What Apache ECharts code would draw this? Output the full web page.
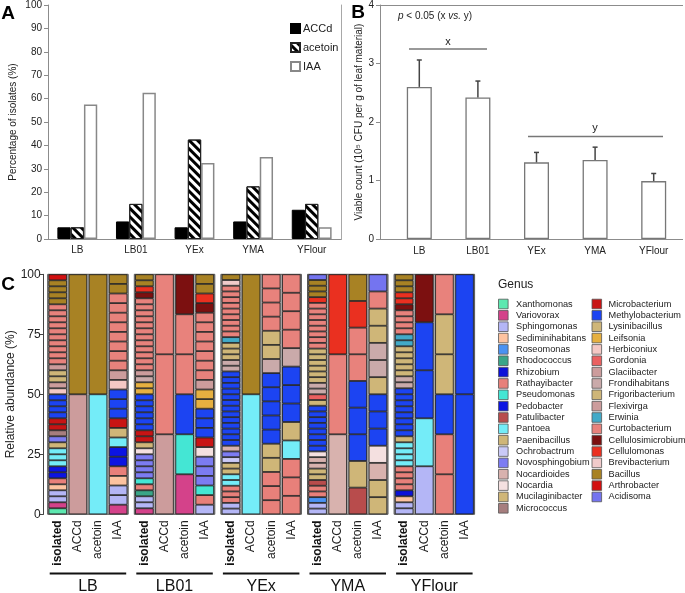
<!DOCTYPE html>
<html><head><meta charset="utf-8">
<script src="https://cdn.jsdelivr.net/npm/echarts@6/dist/echarts.min.js"></script>
<style>html,body{margin:0;padding:0;background:#fff}#c{width:685px;height:593px}</style>
</head><body><div id="c"></div>
<script>
// ---------- Panel A ----------
const categories = ['LB', 'LB01', 'YEx', 'YMA', 'YFlour'];
const accd = [5, 7.5, 5, 7.5, 12.5];
const acetoin = [5, 15, 42.5, 22.5, 15];
const iaa = [57.5, 62.5, 32.5, 35, 5];
const ticksA = [0, 10, 20, 30, 40, 50, 60, 70, 80, 90, 100];

// ---------- Panel B ----------
const viable = [2.6, 2.42, 1.31, 1.35, 0.99];
const viableUpper = [3.06, 2.70, 1.48, 1.57, 1.12];
const ticksB = [0, 1, 2, 3, 4];

// ---------- Panel C ----------
const cColumns = ['isolated', 'ACCd', 'acetoin', 'IAA'];
const cGroups = ['LB', 'LB01', 'YEx', 'YMA', 'YFlour'];
const ticksC = [0, 25, 50, 75, 100];
const genera = ['Xanthomonas','Variovorax','Sphingomonas','Sediminihabitans','Roseomonas','Rhodococcus','Rhizobium','Rathayibacter','Pseudomonas','Pedobacter','Patulibacter','Pantoea','Paenibacillus','Ochrobactrum','Novosphingobium','Nocardioides','Nocardia','Mucilaginibacter','Micrococcus','Microbacterium','Methylobacterium','Lysinibacillus','Leifsonia','Herbiconiux','Gordonia','Glaciibacter','Frondihabitans','Frigoribacterium','Flexivirga','Erwinia','Curtobacterium','Cellulosimicrobium','Cellulomonas','Brevibacterium','Bacillus','Arthrobacter','Acidisoma'];
const genusColors = ['#5de8b0','#d4428a','#b4b6f6','#fdc3a0','#4a92f2','#3aa588','#0c12d8','#e8807a','#44e6d4','#0c14e2','#b84c4c','#74ecf8','#cfb678','#cacaf8','#7c7cf2','#d8b2ae','#f4e0e0','#cfb678','#a67e7e','#c81414','#1c44f2','#cfb678','#e6b040','#f4c8c4','#ea6060','#cc9c9c','#caaaaa','#cfb678','#cc9c9c','#42aac8','#e8827c','#7c1010','#ea3020','#f0caca','#a88224','#d21010','#7474f0'];

// counts of isolates per genus, bottom to top
const lbIsolated = [['Xanthomonas',1],['Variovorax',1],['Sphingomonas',2],['Sediminihabitans',1],['Rathayibacter',1],['Pedobacter',2],['Pantoea',3],['Paenibacillus',1],['Novosphingobium',1],['Micrococcus',1],['Microbacterium',2],['Methylobacterium',4],['Herbiconiux',1],['Glaciibacter',1],['Frigoribacterium',2],['Flexivirga',1],['Curtobacterium',10],['Bacillus',4],['Arthrobacter',1]];
const lbACCd = [['Glaciibacter',1],['Bacillus',1]];
const lbAcetoin = [['Pantoea',1],['Bacillus',1]];
const lbIAA = [['Variovorax',1],['Sphingomonas',2],['Sediminihabitans',1],['Rathayibacter',1],['Pedobacter',2],['Pantoea',1],['Paenibacillus',1],['Microbacterium',1],['Methylobacterium',3],['Herbiconiux',1],['Glaciibacter',1],['Curtobacterium',8],['Bacillus',2]];

const lb01Isolated = [['Variovorax',1],['Sphingomonas',2],['Rhodococcus',1],['Rathayibacter',1],['Pseudomonas',1],['Novosphingobium',4],['Nocardia',1],['Mucilaginibacter',1],['Microbacterium',2],['Methylobacterium',6],['Leifsonia',2],['Frondihabitans',1],['Flexivirga',1],['Curtobacterium',12],['Cellulosimicrobium',1],['Cellulomonas',1],['Bacillus',2]];
const lb01ACCd = [['Glaciibacter',1],['Curtobacterium',2]];
const lb01Acetoin = [['Variovorax',1],['Pseudomonas',1],['Methylobacterium',1],['Curtobacterium',2],['Cellulosimicrobium',1]];
const lb01IAA = [['Sphingomonas',1],['Rathayibacter',1],['Pseudomonas',1],['Novosphingobium',3],['Nocardia',1],['Microbacterium',1],['Methylobacterium',3],['Leifsonia',2],['Flexivirga',1],['Curtobacterium',7],['Cellulosimicrobium',1],['Cellulomonas',1],['Bacillus',2]];

const yexIsolated = [['Sphingomonas',2],['Rathayibacter',3],['Pantoea',2],['Paenibacillus',2],['Ochrobactrum',1],['Novosphingobium',1],['Nocardioides',1],['Methylobacterium',13],['Frondihabitans',2],['Frigoribacterium',3],['Erwinia',1],['Curtobacterium',9],['Brevibacterium',1],['Bacillus',1]];
const yexACCd = [['Pantoea',1],['Bacillus',1]];
const yexAcetoin = [['Rathayibacter',3],['Paenibacillus',2],['Methylobacterium',5],['Frondihabitans',1],['Frigoribacterium',2],['Curtobacterium',4]];
const yexIAA = [['Rathayibacter',3],['Pantoea',1],['Paenibacillus',1],['Methylobacterium',3],['Frondihabitans',1],['Curtobacterium',4]];

const ymaIsolated = [['Sphingomonas',2],['Roseomonas',1],['Rathayibacter',2],['Patulibacter',1],['Paenibacillus',2],['Nocardioides',2],['Nocardia',1],['Methylobacterium',8],['Lysinibacillus',1],['Gordonia',1],['Frondihabitans',2],['Frigoribacterium',6],['Curtobacterium',8],['Cellulomonas',1],['Bacillus',3],['Acidisoma',1]];
const ymaACCd = [['Nocardioides',1],['Curtobacterium',1],['Cellulomonas',1]];
const ymaAcetoin = [['Patulibacter',1],['Paenibacillus',1],['Methylobacterium',3],['Curtobacterium',2],['Cellulomonas',1],['Bacillus',1]];
const ymaIAA = [['Paenibacillus',2],['Nocardioides',1],['Nocardia',1],['Methylobacterium',3],['Lysinibacillus',1],['Frondihabitans',2],['Frigoribacterium',2],['Curtobacterium',1],['Acidisoma',1]];

const yflourIsolated = [['Sphingomonas',2],['Sediminihabitans',1],['Rhizobium',1],['Rathayibacter',4],['Pantoea',4],['Mucilaginibacter',1],['Methylobacterium',8],['Frondihabitans',2],['Frigoribacterium',5],['Erwinia',2],['Curtobacterium',4],['Cellulosimicrobium',1],['Cellulomonas',2],['Bacillus',3]];
const yflourACCd = [['Sphingomonas',1],['Pantoea',1],['Methylobacterium',2],['Cellulosimicrobium',1]];
const yflourAcetoin = [['Rathayibacter',2],['Methylobacterium',1],['Frigoribacterium',2],['Curtobacterium',1]];
const yflourIAA = [['Methylobacterium',2]];

const cData = [
  [lbIsolated, lbACCd, lbAcetoin, lbIAA],
  [lb01Isolated, lb01ACCd, lb01Acetoin, lb01IAA],
  [yexIsolated, yexACCd, yexAcetoin, yexIAA],
  [ymaIsolated, ymaACCd, ymaAcetoin, ymaIAA],
  [yflourIsolated, yflourACCd, yflourAcetoin, yflourIAA]
];

// ---------- build ----------
const FONT = 'Liberation Sans, Arial, sans-serif';
const colorOf = {};
genera.forEach((g, i) => colorOf[g] = genusColors[i]);
const expand = list => { const out = []; list.forEach(([g, n]) => { for (let k = 0; k < n; k++) out.push(g); }); return out; };

const chart = echarts.init(document.getElementById('c'), null, {renderer: 'canvas'});

const AX = '#8c8c8c';
const grids = [
  {left: 48, top: 5, width: 293, height: 234},
  {left: 390, top: 5, width: 293, height: 234}
];
const xAxes = [], yAxes = [], series = [];
const graphics = [];

// Panel A axes
xAxes.push({gridIndex: 0, type: 'category', data: categories, axisLine: {lineStyle: {color: AX}}, axisTick: {show: false},
  axisLabel: {fontSize: 10, color: '#222', fontFamily: FONT, margin: 6}});
xAxes.push({gridIndex: 0, type: 'category', data: categories, position: 'top', axisLine: {lineStyle: {color: AX}}, axisTick: {show: false}, axisLabel: {show: false}});
yAxes.push({gridIndex: 0, type: 'value', min: ticksA[0], max: ticksA[ticksA.length - 1], interval: ticksA[1] - ticksA[0],
  splitLine: {show: false}, axisLine: {show: true, lineStyle: {color: AX}}, axisTick: {show: true, length: 4, lineStyle: {color: AX}},
  axisLabel: {fontSize: 10, color: '#222', fontFamily: FONT, margin: 6},
  name: 'Percentage of isolates (%)', nameLocation: 'middle', nameGap: 30, nameTextStyle: {fontSize: 10, color: '#222', fontFamily: FONT}});
yAxes.push({gridIndex: 0, type: 'value', position: 'right', min: ticksA[0], max: ticksA[ticksA.length - 1], interval: ticksA[1] - ticksA[0],
  splitLine: {show: false}, axisLine: {show: true, lineStyle: {color: '#a8a8a8'}}, axisTick: {show: false}, axisLabel: {show: false}});

const hatch = {symbol: 'rect', symbolSize: 1, dashArrayX: [1, 0], dashArrayY: [2.5, 2.5], rotation: Math.PI / 4, color: '#000'};
series.push({name: 'ACCd', type: 'bar', xAxisIndex: 0, yAxisIndex: 0, data: accd, barGap: '0%', barCategoryGap: '32%',
  itemStyle: {color: '#000', borderColor: '#000', borderWidth: 1}, animation: false});
series.push({name: 'acetoin', type: 'bar', xAxisIndex: 0, yAxisIndex: 0, data: acetoin, barGap: '0%', barCategoryGap: '32%',
  itemStyle: {color: '#fff', borderColor: '#222', borderWidth: 1, decal: hatch}, animation: false});
series.push({name: 'IAA', type: 'bar', xAxisIndex: 0, yAxisIndex: 0, data: iaa, barGap: '0%', barCategoryGap: '32%',
  itemStyle: {color: '#fff', borderColor: '#888', borderWidth: 1.5}, animation: false});

// Panel B axes (y axis line sits a little left of the first category band)
xAxes.push({gridIndex: 1, type: 'category', data: categories, axisLine: {show: false}, axisTick: {show: false},
  axisLabel: {fontSize: 10, color: '#222', fontFamily: FONT, margin: 7}});
yAxes.push({gridIndex: 1, type: 'value', min: ticksB[0], max: ticksB[ticksB.length - 1], interval: ticksB[1] - ticksB[0], offset: 10,
  splitLine: {show: false}, axisLine: {show: true, lineStyle: {color: AX}}, axisTick: {show: true, length: 4, lineStyle: {color: AX}},
  axisLabel: {fontSize: 10, color: '#222', fontFamily: FONT, margin: 6},
  name: 'Viable count (10\u2075 CFU per g of leaf material)', nameLocation: 'middle', nameGap: 13, nameTextStyle: {fontSize: 10, color: '#222', fontFamily: FONT}});
graphics.push({type: 'line', shape: {x1: 380, y1: 239.5, x2: 683, y2: 239.5}, style: {stroke: AX, lineWidth: 1}});
graphics.push({type: 'line', shape: {x1: 380, y1: 5.5, x2: 683, y2: 5.5}, style: {stroke: AX, lineWidth: 1}});
series.push({name: 'viable', type: 'bar', xAxisIndex: 2, yAxisIndex: 2, data: viable, barWidth: 25,
  itemStyle: {color: '#fff', borderColor: '#777', borderWidth: 1.3}, animation: false});
series.push({name: 'err', type: 'custom', xAxisIndex: 2, yAxisIndex: 2,
  data: categories.map((c, i) => [i, viable[i], viableUpper[i]]),
  renderItem: (params, api) => {
    const b = api.coord([api.value(0), api.value(1)]);
    const t = api.coord([api.value(0), api.value(2)]);
    const st = {stroke: '#444', lineWidth: 1.5};
    return {type: 'group', children: [
      {type: 'line', shape: {x1: b[0], y1: b[1], x2: t[0], y2: t[1]}, style: st},
      {type: 'line', shape: {x1: t[0] - 2.5, y1: t[1], x2: t[0] + 2.5, y2: t[1]}, style: st}
    ]};
  }, animation: false, z: 3});

// Panel C
const cLeft0 = 47.7, cStep = 86.6, cWidth = 80.5, cTop = 274.3, cHeight = 240;
cGroups.forEach((gname, gi) => {
  const gIdx = grids.length;
  grids.push({left: cLeft0 + gi * cStep, top: cTop, width: cWidth, height: cHeight, show: true,
    backgroundColor: '#a6a6a6', borderColor: '#555', borderWidth: 1});
  const xi = xAxes.length;
  xAxes.push({gridIndex: gIdx, type: 'category', data: cColumns, axisLine: {show: false}, axisTick: {show: false},
    axisLabel: {rotate: 90, fontSize: 12, color: '#222', fontFamily: FONT, margin: 6,
      formatter: v => v === 'isolated' ? '{b|' + v + '}' : v, rich: {b: {fontWeight: 'bold', fontSize: 12, fontFamily: FONT, color: '#111'}}}});
  const yi = yAxes.length;
  yAxes.push({gridIndex: gIdx, type: 'value', min: ticksC[0], max: ticksC[ticksC.length - 1], interval: ticksC[1] - ticksC[0],
    splitLine: {show: false}, show: gi === 0, offset: 4,
    axisLine: {show: true, lineStyle: {color: '#444', width: 1}}, axisTick: {show: true, length: 4, lineStyle: {color: '#444'}},
    axisLabel: {fontSize: 12, color: '#222', fontFamily: FONT, margin: 3},
    name: gi === 0 ? 'Relative abundance (%)' : '', nameLocation: 'middle', nameGap: 23,
    nameTextStyle: {fontSize: 12, color: '#222', fontFamily: FONT}});
  const cols = cData[gi].map(expand);
  const maxN = Math.max(...cols.map(c => c.length));
  for (let k = 0; k < maxN; k++) {
    series.push({type: 'bar', stack: 'g' + gi, xAxisIndex: xi, yAxisIndex: yi, barWidth: '92%', silent: true, animation: false,
      itemStyle: {borderColor: '#1a1a1a', borderWidth: 0.8},
      data: cols.map(col => k < col.length ? {value: 100 / col.length, itemStyle: {color: colorOf[col[k]]}} : '-')});
  }
  const gx = cLeft0 + gi * cStep;
  graphics.push({type: 'line', shape: {x1: gx + 2, y1: 573.5, x2: gx + cWidth - 2, y2: 573.5}, style: {stroke: '#111', lineWidth: 2}});
  graphics.push({type: 'text', x: gx + cWidth / 2, y: 587, style: {text: gname, fontSize: 16, fill: '#111', fontFamily: FONT, align: 'center', verticalAlign: 'middle'}});
});

// Panel C legend (Genus)
graphics.push({type: 'text', x: 498, y: 285, style: {text: 'Genus', fontSize: 12, fill: '#222', fontFamily: FONT, verticalAlign: 'middle'}});
const perCol = 19, rowH = 11.35;
genera.forEach((g, i) => {
  const col = i < perCol ? 0 : 1;
  const row = i < perCol ? i : i - perCol;
  const sx = col === 0 ? 498.5 : 592;
  const tx = col === 0 ? 516 : 608.5;
  const cy = 304 + row * rowH;
  graphics.push({type: 'rect', shape: {x: sx, y: cy - 4.8, width: 9.6, height: 9.6}, style: {fill: genusColors[i], stroke: '#555', lineWidth: 0.8}});
  graphics.push({type: 'text', x: tx, y: cy, style: {text: g, fontSize: 9.2, fill: '#222', fontFamily: FONT, verticalAlign: 'middle'}});
});

// Panel letters
[['A', 8, 14], ['B', 358, 13], ['C', 8, 285]].forEach(([t, x, y]) => {
  graphics.push({type: 'text', x: x, y: y, style: {text: t, fontSize: 19, fontWeight: 'bold', fill: '#000', fontFamily: FONT, align: 'center', verticalAlign: 'middle'}});
});

// Panel B annotations
graphics.push({type: 'text', x: 398, y: 16, style: {text: '{i|p} < 0.05 (x {i|vs.} y)', fontSize: 10, fill: '#222', fontFamily: FONT, verticalAlign: 'middle',
  rich: {i: {fontStyle: 'italic', fontSize: 10, fontFamily: FONT, fill: '#222'}}}});
graphics.push({type: 'line', shape: {x1: 409, y1: 49, x2: 487, y2: 49}, style: {stroke: '#777', lineWidth: 1.5}});
graphics.push({type: 'text', x: 448, y: 42, style: {text: 'x', fontSize: 11, fill: '#222', fontFamily: FONT, align: 'center', verticalAlign: 'middle'}});
graphics.push({type: 'line', shape: {x1: 528, y1: 136.5, x2: 663, y2: 136.5}, style: {stroke: '#777', lineWidth: 1.5}});
graphics.push({type: 'text', x: 595, y: 128, style: {text: 'y', fontSize: 11, fill: '#222', fontFamily: FONT, align: 'center', verticalAlign: 'middle'}});

chart.setOption({
  animation: false,
  textStyle: {fontFamily: FONT},
  grid: grids,
  xAxis: xAxes,
  yAxis: yAxes,
  legend: {data: ['ACCd', 'acetoin', 'IAA'], orient: 'vertical', left: 285, top: 18, itemWidth: 9, itemHeight: 9, itemGap: 8,
    icon: 'rect', textStyle: {fontSize: 11, color: '#222', fontFamily: FONT, padding: [0, 0, 0, -2]}, selectedMode: false},
  series: series,
  graphic: graphics
});
</script>
</body></html>
